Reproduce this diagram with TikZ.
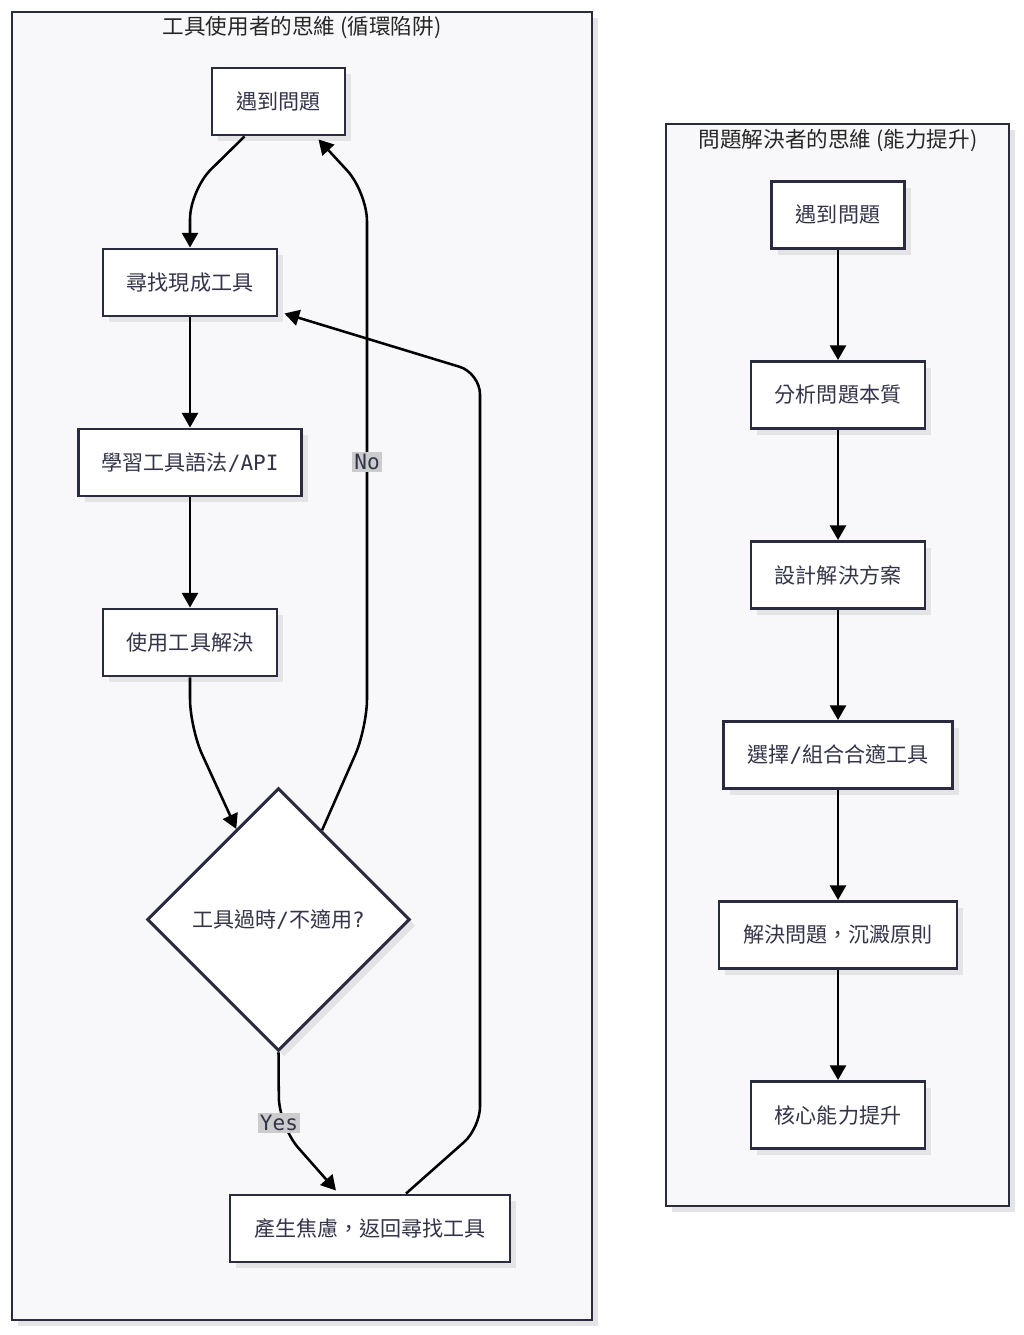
\documentclass[tikz,border=0pt]{standalone}
\usepackage{fontspec}
\setmainfont{Noto Sans CJK TC}
\newfontfamily\latinmono{DejaVu Sans Mono}
\usetikzlibrary{arrows.meta,shapes.geometric,shadows,calc}
\definecolor{nodeline}{HTML}{2B2B40}
\definecolor{nodetext}{HTML}{33334A}
\definecolor{clusterfill}{HTML}{F8F8FA}
\definecolor{shadowgray}{HTML}{E4E4E7}
\definecolor{lblfill}{HTML}{CCCCCC}
\begin{document}
\begin{tikzpicture}[x=0.75pt,y=-0.75pt,
  nodefont/.style={font=\fontsize{15.8}{18}\selectfont},
  shade/.style={drop shadow={shadow xshift=4.5pt,shadow yshift=-4.5pt,fill=shadowgray,opacity=1}},
  box/.style={draw=nodeline,line width=2.2pt,fill=white,text=nodetext,nodefont,minimum height=50.25pt,inner sep=0pt,shade},
  decision/.style={diamond,aspect=1,draw=nodeline,line width=2.2pt,fill=white,text=nodetext,nodefont,minimum width=197pt,minimum height=197pt,inner sep=0pt,shade},
  cluster/.style={draw=nodeline,line width=1.7pt,fill=clusterfill,shade},
  ctitle/.style={text=black!85,font=\fontsize{16.2}{19}\selectfont,inner sep=0pt},
  lbl/.style={fill=lblfill,text=nodetext,nodefont,inner sep=1.5pt},
  edge/.style={draw=black,line width=1.9pt,-{Triangle[length=11pt,width=12pt]},rounded corners=22pt},
]
\useasboundingbox (0,0) rectangle (1024,1335);
\fill[white] (0,0) rectangle (1024,1335);

% clusters
\draw[cluster] (12,12) rectangle (592,1320);
\draw[cluster] (666,124) rectangle (1009,1206);
\node[ctitle] (t1) at (302,27) {工具使用者的思維 (循環陷阱)};
\node[ctitle] (t2) at (838,140) {問題解決者的思維 (能力提升)};

% left nodes
\node[box,minimum width=99.75pt] (a) at (278.5,101.5) {遇到問題};
\node[box,minimum width=130.5pt] (b) at (190,282.5) {尋找現成工具};
\node[box,minimum width=167.25pt] (c) at (190,462.5) {學習工具語法{\latinmono /API}};
\node[box,minimum width=130.5pt] (d) at (190,642.5) {使用工具解決};
\node[decision] (e) at (278.5,919.5) {工具過時{\latinmono /}不適用{\latinmono ?}};
\node[box,minimum width=210pt] (f) at (370,1228.5) {產生焦慮，返回尋找工具};

% right nodes
\node[box,minimum width=99.75pt] (r1) at (838,215) {遇到問題};
\node[box,minimum width=130.5pt] (r2) at (838,395) {分析問題本質};
\node[box,minimum width=130.5pt] (r3) at (838,575) {設計解決方案};
\node[box,minimum width=171.75pt] (r4) at (838,755) {選擇{\latinmono /}組合合適工具};
\node[box,minimum width=178.5pt] (r5) at (838,935) {解決問題，沉澱原則};
\node[box,minimum width=130.5pt] (r6) at (838,1115) {核心能力提升};

% left edges
\draw[edge] ($(a.south)+(-34,0)$) -- (190,190) -- (b.north);
\draw[edge] (b.south) -- (c.north);
\draw[edge] (c.south) -- (d.north);
\draw[edge] (d.south) -- (190,728) -- (e.115);
\draw[edge] (e.64) -- (367,728) -- (367,192) -- ($(a.south)+(40,3)$);
\draw[edge] (e.south) -- (279,1126) -- ($(f.north)+(-34,-3)$);
\draw[edge,rounded corners=16pt] ($(f.north)+(36,0)$) -- (480,1128) -- (480,373) -- ($(b.south east)+(6,-4)$);
\node[lbl] (no) at (367,462) {\latinmono No};
\node[lbl] (yes) at (279,1123) {\latinmono Yes};

% right edges
\draw[edge] (r1.south) -- (r2.north);
\draw[edge] (r2.south) -- (r3.north);
\draw[edge] (r3.south) -- (r4.north);
\draw[edge] (r4.south) -- (r5.north);
\draw[edge] (r5.south) -- (r6.north);
\end{tikzpicture}
\end{document}
